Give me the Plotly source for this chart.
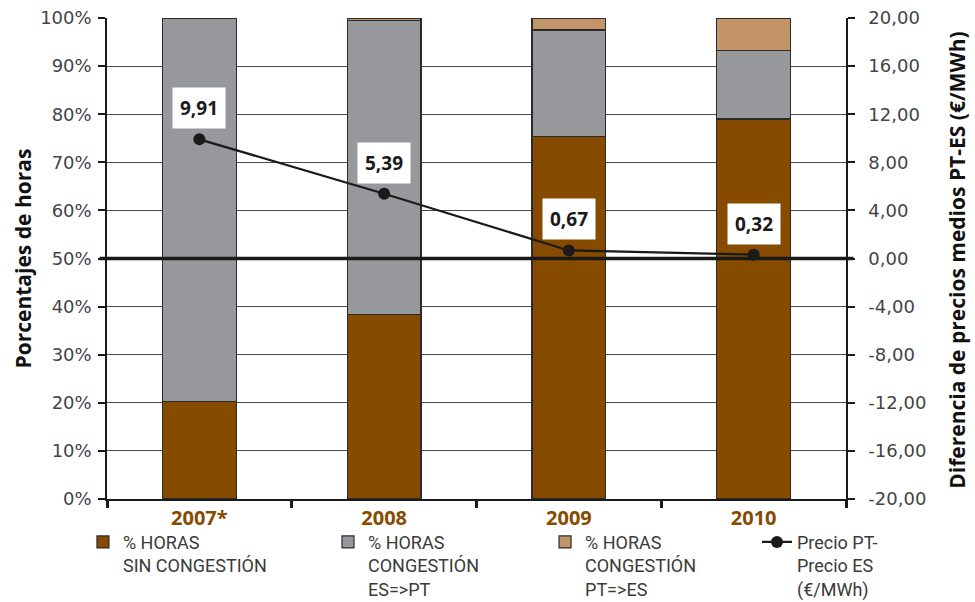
import plotly.graph_objects as go

# Years (2007 is a partial year)
years = ["2007*", "2008", "2009", "2010"]

# Share of hours (%) by congestion state
sin_congestion = [20.2, 38.3, 75.3, 79.0]
congestion_es_pt = [79.8, 61.1, 22.2, 14.3]
congestion_pt_es = [0.0, 0.6, 2.5, 6.7]

# Average price difference PT - ES (EUR/MWh)
precio_dif = [9.91, 5.39, 0.67, 0.32]

# Tick labels
pct_ticks = [0, 10, 20, 30, 40, 50, 60, 70, 80, 90, 100]
eur_ticks = [-20, -16, -12, -8, -4, 0, 4, 8, 12, 16, 20]

# Axis titles
left_title = "Porcentajes de horas"
right_title = "Diferencia de precios medios PT-ES (€/MWh)"


def es_num(v):
    """Two decimals with a decimal comma."""
    return f"{v:.2f}".replace(".", ",")


BROWN = "#874B00"
GREY = "#97989B"
TAN = "#C39467"
EDGE = "#2b2b2b"
TXT = "#3a3a3a"
INK = "#1a1a1a"

LEGEND_FONT = dict(family="Roboto, sans-serif", size=18, color=TXT)
TICK_FONT = dict(family="DejaVu Sans, sans-serif", size=18, color="#444444")
TITLE_FONT = dict(family="Open Sans, sans-serif", size=21, color="#111111", weight="bold")

fig = go.Figure()

fig.add_trace(go.Bar(
    x=years, y=sin_congestion, name="% HORAS<br>SIN CONGESTIÓN",
    marker=dict(color=BROWN, line=dict(color=EDGE, width=1.2)),
    width=0.4, legend="legend",
))
fig.add_trace(go.Bar(
    x=years, y=congestion_es_pt, name="% HORAS<br>CONGESTIÓN<br>ES=>PT",
    marker=dict(color=GREY, line=dict(color=EDGE, width=1.2)),
    width=0.4, legend="legend2",
))
fig.add_trace(go.Bar(
    x=years, y=congestion_pt_es, name="% HORAS<br>CONGESTIÓN<br>PT=>ES",
    marker=dict(color=TAN, line=dict(color=EDGE, width=1.2)),
    width=0.4, legend="legend3",
))
fig.add_trace(go.Scatter(
    x=years, y=precio_dif, yaxis="y2", mode="lines+markers",
    name="Precio PT-<br>Precio ES<br>(€/MWh)",
    line=dict(color=INK, width=2.2),
    marker=dict(color=INK, size=12),
    legend="legend4",
))

# Value labels in white boxes above each point (x given as category index)
for i, v in enumerate(precio_dif):
    fig.add_annotation(
        x=i, y=v, xref="x", yref="y2", text=es_num(v),
        showarrow=False, yshift=31, bgcolor="white", borderpad=7,
        font=dict(family="Open Sans, sans-serif", size=19, color=INK, weight="bold"),
    )

# Rotated axis titles on both sides
fig.add_annotation(text=left_title, xref="paper", yref="paper",
                   x=-0.115, y=0.5, textangle=-90, showarrow=False,
                   xanchor="center", yanchor="middle", font=TITLE_FONT)
fig.add_annotation(text=right_title, xref="paper", yref="paper",
                   x=1.150, y=0.497, textangle=-90, showarrow=False,
                   xanchor="center", yanchor="middle", font=TITLE_FONT)

# Heavy zero line of the price axis, drawn over the bars
fig.add_shape(type="line", xref="paper", yref="y2",
              x0=-0.01, x1=1.01, y0=0, y1=0,
              line=dict(color=INK, width=3.5), layer="above")


def legend_box(x):
    return dict(
        xref="container", yref="container", x=x, y=0.130,
        xanchor="left", yanchor="top", orientation="v",
        valign="top", font=LEGEND_FONT, bgcolor="rgba(0,0,0,0)",
    )


fig.update_layout(
    template="none",
    width=975, height=602,
    margin=dict(l=107, r=129, t=18, b=103, autoexpand=False),
    paper_bgcolor="white", plot_bgcolor="white",
    font=dict(family="Open Sans, sans-serif", color=TXT),
    barmode="stack",
    showlegend=True,
    legend=legend_box(0.0851),
    legend2=legend_box(0.3364),
    legend3=legend_box(0.559),
    legend4=legend_box(0.7764),
    xaxis=dict(
        type="category", categoryorder="array", categoryarray=years,
        range=[-0.5, 3.5], tickson="boundaries",
        ticks="outside", ticklen=7, tickwidth=3, tickcolor=INK,
        showline=True, linecolor=INK, linewidth=2,
        showgrid=False, zeroline=False, automargin=False,
        tickfont=dict(family="Liberation Sans Narrow, Open Sans, sans-serif",
                      size=20, color=BROWN, weight="bold"),
    ),
    yaxis=dict(
        range=[0, 100], tickvals=pct_ticks,
        ticktext=[f"{t}%" for t in pct_ticks],
        ticks="outside", ticklen=7, tickwidth=1.5, tickcolor=INK,
        showline=True, linecolor=INK, linewidth=1.5,
        showgrid=True, gridcolor="#4d4d4d", gridwidth=1.3,
        zeroline=False, tickfont=TICK_FONT, automargin=False,
        ticklabelstandoff=3,
    ),
    yaxis2=dict(
        overlaying="y", side="right", anchor="x",
        range=[-20, 20], tickvals=eur_ticks,
        ticktext=[es_num(t) for t in eur_ticks],
        ticks="outside", ticklen=7, tickwidth=1.5, tickcolor=INK,
        showline=True, linecolor=INK, linewidth=1.5,
        showgrid=False, zeroline=False, tickfont=TICK_FONT, automargin=False,
        ticklabelstandoff=10,
    ),
)

fig.write_html("out.html")
